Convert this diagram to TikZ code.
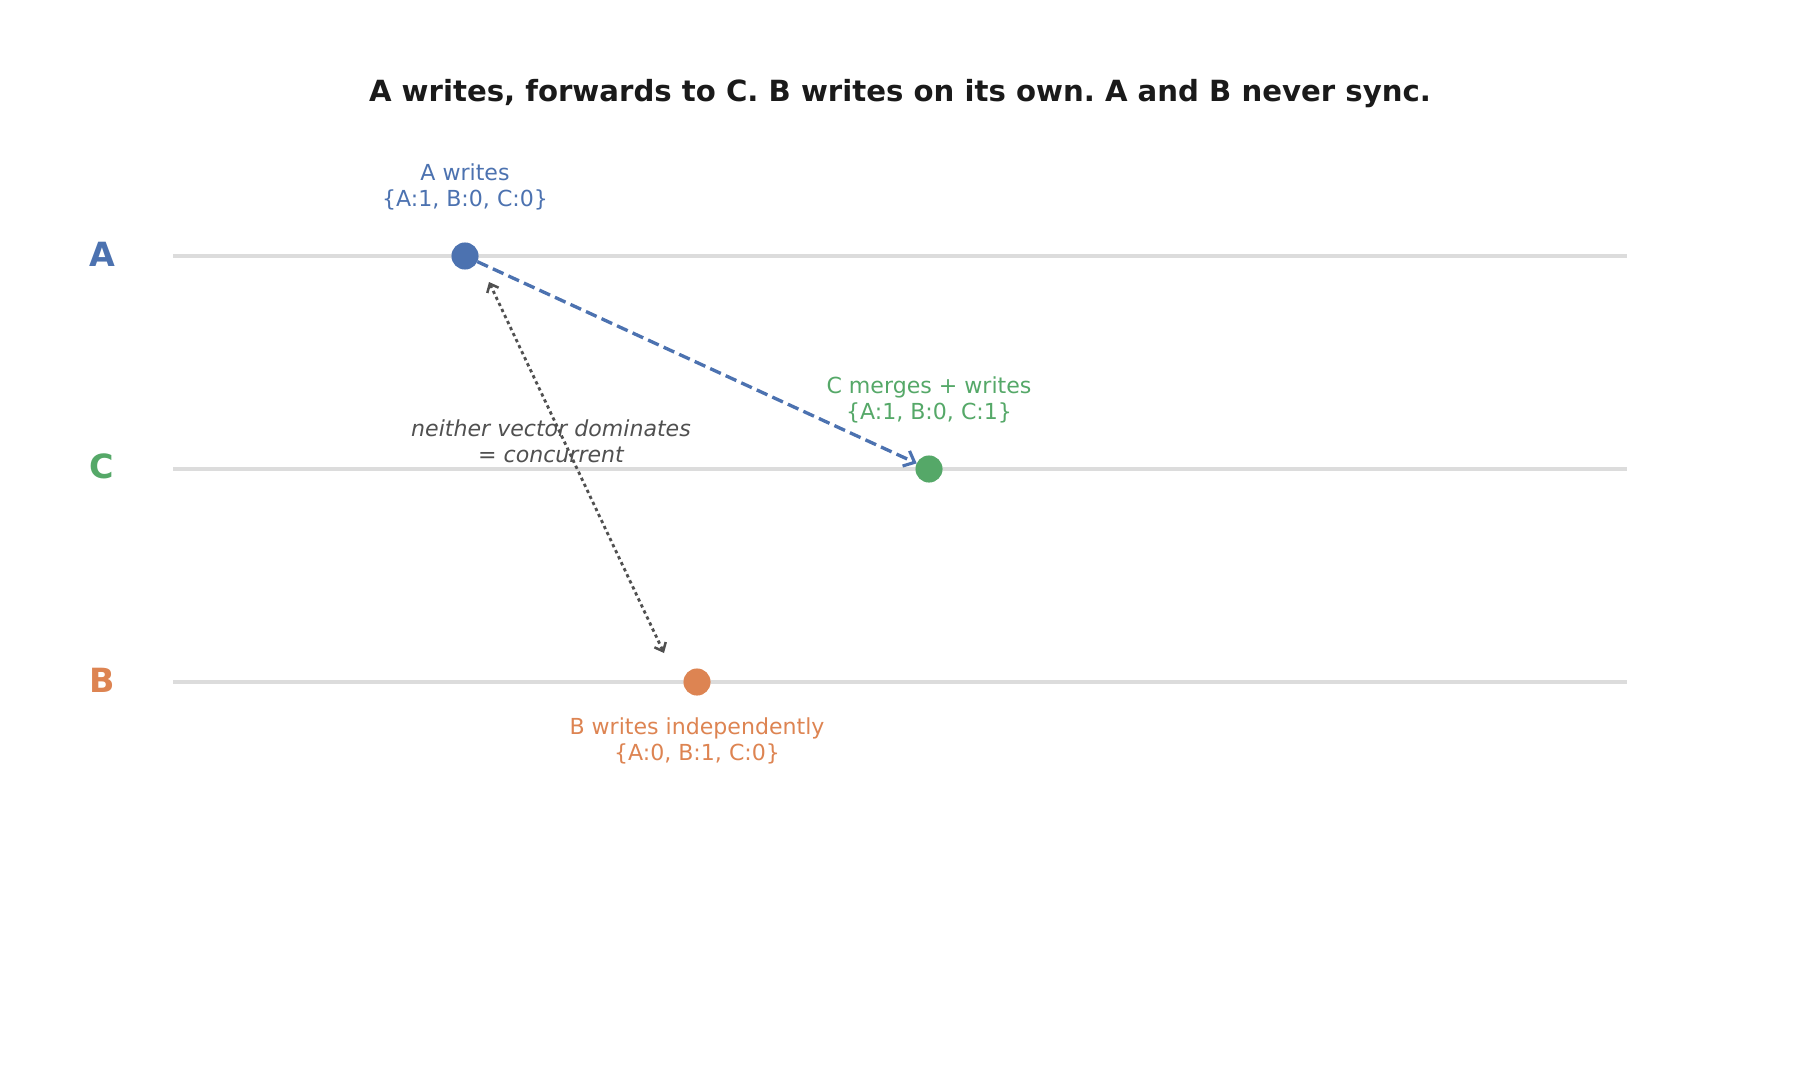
\documentclass[tikz,border=0pt]{standalone}
\usepackage{fontspec}
\setmainfont{DejaVu Sans}
\usetikzlibrary{arrows.meta}
\frenchspacing
\definecolor{cA}{HTML}{4C72B0}
\definecolor{cB}{HTML}{DD8452}
\definecolor{cC}{HTML}{55A868}
\definecolor{lanegrey}{HTML}{DCDCDC}
\definecolor{notegrey}{HTML}{505050}
\definecolor{ttl}{HTML}{1A1A1A}
\begin{document}
\begin{tikzpicture}[x=0.48pt,y=-0.48pt,
  laneline/.style={draw=lanegrey, line width=1.6pt},
  event/.style={circle, minimum size=13pt, inner sep=0pt, outer sep=0pt},
  lanelabel/.style={font=\fontsize{16}{19}\selectfont\bfseries},
  evlabel/.style={font=\fontsize{10.6}{12.6}\selectfont, align=center},
  msg/.style={draw=cA, line width=1.6pt, dash pattern=on 5.6pt off 2.6pt, -{Straight Barb[length=4.5pt,width=8pt,line width=1.5pt]}},
  conc/.style={draw=notegrey, line width=1.35pt, dash pattern=on 1.6pt off 1.6pt, {Straight Barb[length=3.5pt,width=6pt,line width=1.2pt]}-{Straight Barb[length=3.5pt,width=6pt,line width=1.2pt]}}
]
\useasboundingbox (0,0) rectangle (1800,1080);
% title
\node[text=ttl, font=\fontsize{14}{16.8}\selectfont\bfseries] (title) at (900,94) {A writes, forwards to C. B writes on its own. A and B never sync.};
% lanes
\coordinate (As) at (173,256); \coordinate (Ae) at (1627,256);
\coordinate (Cs) at (173,469); \coordinate (Ce) at (1627,469);
\coordinate (Bs) at (173,682); \coordinate (Be) at (1627,682);
\draw[laneline] (As) -- (Ae);
\draw[laneline] (Cs) -- (Ce);
\draw[laneline] (Bs) -- (Be);
\node[lanelabel, text=cA] (lA) at (102,254) {A};
\node[lanelabel, text=cC] (lC) at (102,466) {C};
\node[lanelabel, text=cB] (lB) at (102,680) {B};
% events
\node[event, fill=cA] (eA) at (465,256) {};
\node[event, fill=cC] (eC) at (929,469) {};
\node[event, fill=cB] (eB) at (697,682) {};
% labels
\node[evlabel, text=cA] (tA) at (465,187) {A writes\\\{A:1, B:0, C:0\}};
\node[evlabel, text=cC] (tC) at (929,400) {C merges + writes\\\{A:1, B:0, C:1\}};
\node[evlabel, text=cB] (tB) at (697,741) {B writes independently\\\{A:0, B:1, C:0\}};
\node[evlabel, text=notegrey, font=\fontsize{10.6}{12.6}\selectfont\itshape] (tN) at (551,441) {neither vector dominates\\= concurrent};
% arrows
\draw[msg] (eA) -- (eC);
\coordinate (cu) at (489,282);
\coordinate (cl) at (664,653);
\draw[conc] (cu) -- (cl);
\end{tikzpicture}
\end{document}
